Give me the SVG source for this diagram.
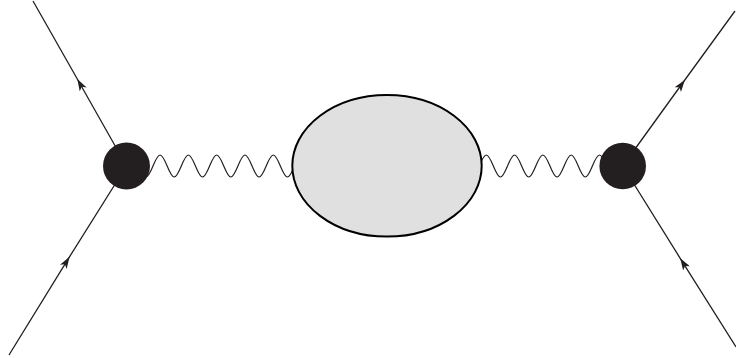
<svg xmlns="http://www.w3.org/2000/svg" width="736" height="358" viewBox="0 0 736 358">
  <style>
    .fermion { fill: none; stroke: #231f20; stroke-width: 1.3; marker-mid: url(#arrow); }
    .photon { fill: none; stroke: #231f20; stroke-width: 1.2; }
    .vertex { fill: #231f20; stroke: none; }
    .blob { fill: #e0e0e0; stroke: #000; stroke-width: 2; }
  </style>
  <defs>
    <marker id="arrow" viewBox="0 0 12 8" refX="12" refY="4" markerWidth="12" markerHeight="8" markerUnits="userSpaceOnUse" orient="auto">
      <path d="M0,0 L12,4 L0,8 L3,4 z" fill="#231f20"/>
    </marker>
  </defs>
  <rect width="736" height="358" fill="#fff"/>
  <g id="connectors">
    <path id="e-out-left" class="fermion" d="M126.5,166 L77.3,79 L33,1"/>
    <path id="e-in-left" class="fermion" d="M9,355 L69.6,256.7 L126.5,166"/>
    <path id="e-out-right" class="fermion" d="M622.7,166 L684.8,80 L735,11"/>
    <path id="e-in-right" class="fermion" d="M736,347 L680.2,258.3 L622.7,166"/>
    <path id="photon-left" class="photon" d="M138.85,166 c2.31,5.64 4.51,11 7.075,11 s4.765,-5.36 7.075,-11
      s4.51,-11 7.075,-11 s4.765,5.36 7.075,11 s4.51,11 7.075,11 s4.765,-5.36 7.075,-11
      s4.51,-11 7.075,-11 s4.765,5.36 7.075,11 s4.51,11 7.075,11 s4.765,-5.36 7.075,-11
      s4.51,-11 7.075,-11 s4.765,5.36 7.075,11 s4.51,11 7.075,11 s4.765,-5.36 7.075,-11
      s4.51,-11 7.075,-11 s4.765,5.36 7.075,11 s4.51,11 7.075,11 s4.765,-5.36 7.075,-11
      s4.51,-11 7.075,-11 s4.765,5.36 7.075,11 s4.51,11 7.075,11 s4.765,-5.36 7.075,-11"/>
    <path id="photon-right" class="photon" d="M479.2,166 c2.31,-5.64 4.51,-11 7.075,-11 s4.765,5.36 7.075,11
      s4.51,11 7.075,11 s4.765,-5.36 7.075,-11 s4.51,-11 7.075,-11 s4.765,5.36 7.075,11
      s4.51,11 7.075,11 s4.765,-5.36 7.075,-11 s4.51,-11 7.075,-11 s4.765,5.36 7.075,11
      s4.51,11 7.075,11 s4.765,-5.36 7.075,-11 s4.51,-11 7.075,-11 s4.765,5.36 7.075,11
      s4.51,11 7.075,11 s4.765,-5.36 7.075,-11 s4.51,-11 7.075,-11 s4.765,5.36 7.075,11"/>
  </g>
  <g id="vertex-left">
    <circle class="vertex" cx="126.5" cy="166" r="23.5"/>
  </g>
  <g id="blob">
    <ellipse class="blob" cx="387" cy="165.8" rx="94.7" ry="70.8"/>
  </g>
  <g id="vertex-right">
    <circle class="vertex" cx="622.7" cy="166" r="23.3"/>
  </g>
</svg>
